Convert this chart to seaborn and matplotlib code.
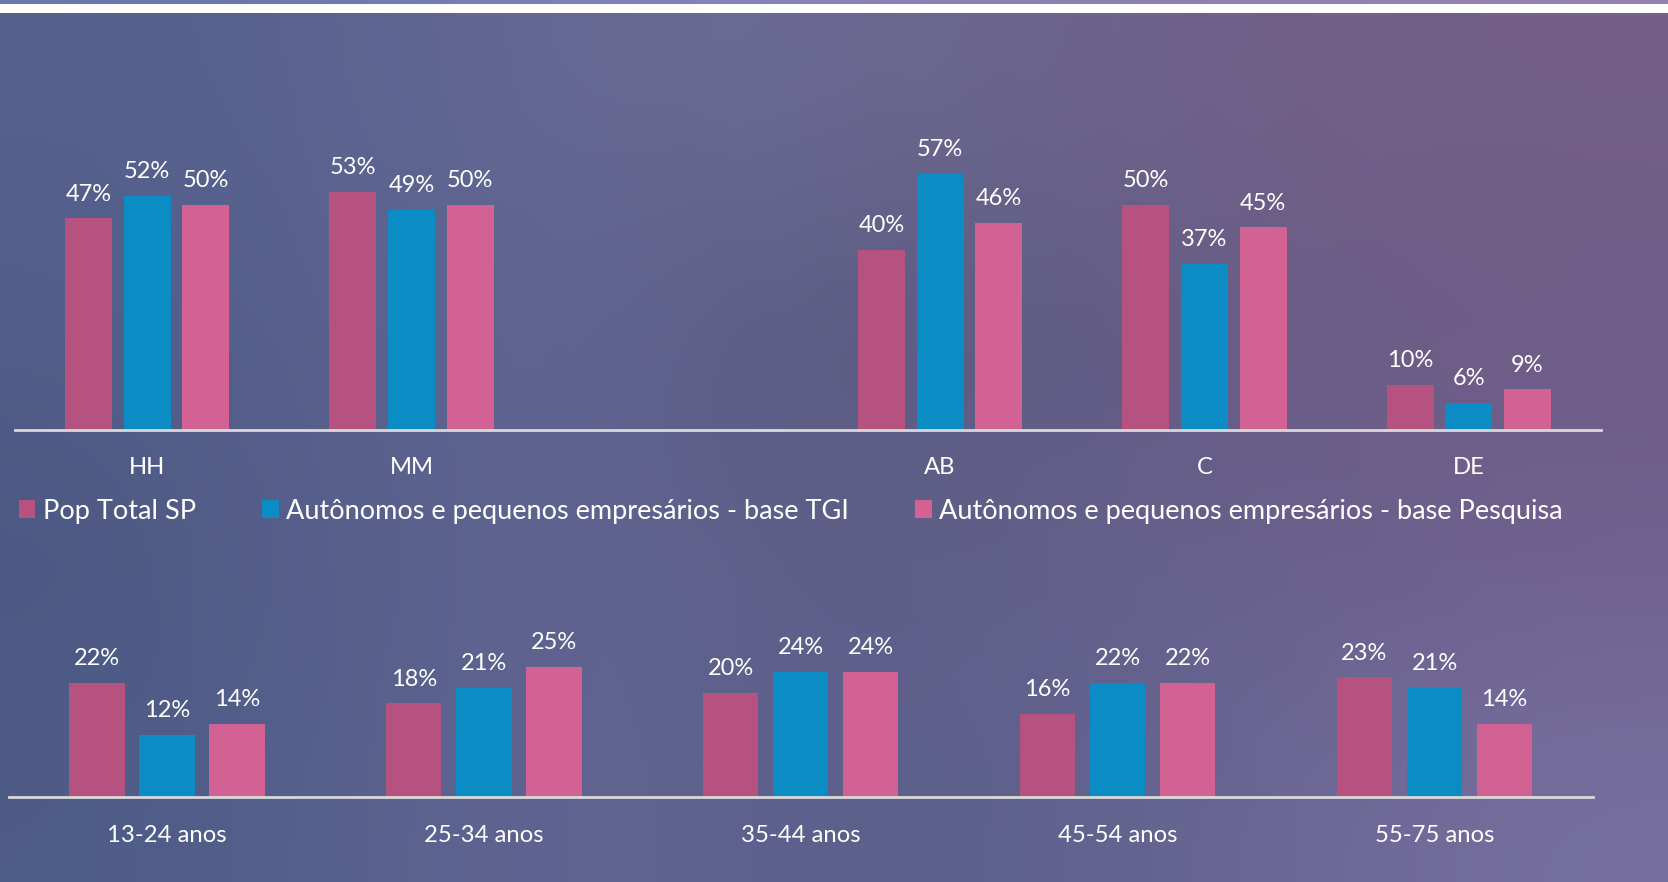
import numpy as np
import pandas as pd
import matplotlib
matplotlib.use("Agg")
import matplotlib.pyplot as plt
from matplotlib.patches import Patch, Rectangle
import seaborn as sns

# ---------------- data ----------------
series = ["Pop Total SP",
          "Autônomos e pequenos empresários - base TGI",
          "Autônomos e pequenos empresários - base Pesquisa"]
colors = ["#b5527f", "#0b8cc5", "#d26194"]

top_categories = ["HH", "MM", "AB", "C", "DE"]
top_order = ["HH", "MM", " ", "AB", "C", "DE"]
top_pop_total = [47, 53, 40, 50, 10]
top_tgi = [52, 49, 57, 37, 6]
top_pesquisa = [50, 50, 46, 45, 9]

age_categories = ["13-24 anos", "25-34 anos", "35-44 anos", "45-54 anos", "55-75 anos"]
age_pop_total = [22, 18, 20, 16, 23]
age_tgi = [12, 21, 24, 22, 21]
age_pesquisa = [14, 25, 24, 22, 14]


def long_df(cats, a, b, c):
    rows = []
    for s, vals in zip(series, [a, b, c]):
        for cat, v in zip(cats, vals):
            rows.append({"cat": cat, "serie": s, "val": v})
    return pd.DataFrame(rows)


df_top = long_df(top_categories, top_pop_total, top_tgi, top_pesquisa)
df_age = long_df(age_categories, age_pop_total, age_tgi, age_pesquisa)

# ---------------- style ----------------
sns.set_style("white")
plt.rcParams["font.family"] = ["Lato", "DejaVu Sans"]

W, H = 1668, 882
fig = plt.figure(figsize=(W / 100, H / 100), dpi=100)

# background
bg = fig.add_axes([0, 0, 1, 1])
bg_colors = np.array([
    [(85, 97, 142), (92, 100, 145), (104, 106, 148), (108, 106, 146), (108, 100, 140), (114, 96, 136), (116, 96, 136)],
    [(82, 93, 137), (90, 98, 142), (96, 100, 145), (88, 88, 125), (95, 92, 132), (106, 92, 132), (110, 92, 134)],
    [(76, 88, 130), (88, 96, 140), (98, 100, 145), (94, 95, 135), (100, 96, 140), (106, 96, 140), (112, 96, 142)],
    [(78, 92, 136), (88, 98, 142), (100, 100, 146), (90, 95, 138), (96, 98, 142), (110, 104, 150), (118, 112, 158)],
], dtype=float) / 255.0
bg.imshow(bg_colors, extent=[0, 1, 0, 1], aspect="auto", interpolation="bicubic", zorder=0)
strip = np.array([[(105, 118, 172), (128, 130, 185), (140, 128, 182), (150, 128, 178)]], dtype=float) / 255.0
bg.imshow(strip, extent=[0, 1, 1 - 4.5 / H, 1], aspect="auto", interpolation="bilinear", zorder=1)
bg.add_patch(Rectangle((0, 1 - 12.5 / H), 1, 8.0 / H, facecolor="white", edgecolor="none", zorder=2))
bg.set_xlim(0, 1)
bg.set_ylim(0, 1)
bg.axis("off")


def style_axes(ax, ylim_max, pad):
    ax.set_facecolor("none")
    ax.set_ylim(0, ylim_max)
    for s in ["top", "right", "left"]:
        ax.spines[s].set_visible(False)
    ax.spines["bottom"].set_color("#d9d9d9")
    ax.spines["bottom"].set_linewidth(2)
    ax.set_yticks([])
    ax.set_xlabel("")
    ax.set_ylabel("")
    ax.tick_params(axis="x", length=0, pad=pad, colors="white", labelsize=17.2)
    for c in ax.containers:
        labels = [f"{v:.0f}%" if np.isfinite(v) else "" for v in c.datavalues]
        ax.bar_label(c, labels=labels, padding=10, color="white", fontsize=17)


# top chart
ax1 = fig.add_axes([15 / W, 1 - 430 / H, 1586 / W, 370 / H])
sns.barplot(data=df_top, x="cat", y="val", hue="serie", order=top_order, hue_order=series,
            palette=colors, saturation=1, width=0.665, gap=0.2, errorbar=None,
            linewidth=0, legend=False, ax=ax1)
ax1.set_xlim(-0.5, 5.5)
style_axes(ax1, 370 / 4.5, 19.5)

# bottom chart
ax2 = fig.add_axes([8.5 / W, 1 - 797 / H, 1584.5 / W, 197 / H])
sns.barplot(data=df_age, x="cat", y="val", hue="serie", order=age_categories, hue_order=series,
            palette=colors, saturation=1, width=0.663, gap=0.21, errorbar=None,
            linewidth=0, legend=False, ax=ax2)
ax2.set_xlim(-0.5, 4.5)
style_axes(ax2, 197 / 5.2, 20.5)

# legend
handles = [Patch(facecolor=c, edgecolor="none") for c in colors]
fig.legend(handles, series, loc="center left", bbox_to_anchor=(19 / W, 1 - 511 / H), ncol=3,
           frameon=False, fontsize=19.5, handlelength=0.6, handleheight=0.6, handletextpad=0.28,
           columnspacing=2.45, borderpad=0, borderaxespad=0, labelcolor="white")

fig.savefig("out.png", dpi=100)
